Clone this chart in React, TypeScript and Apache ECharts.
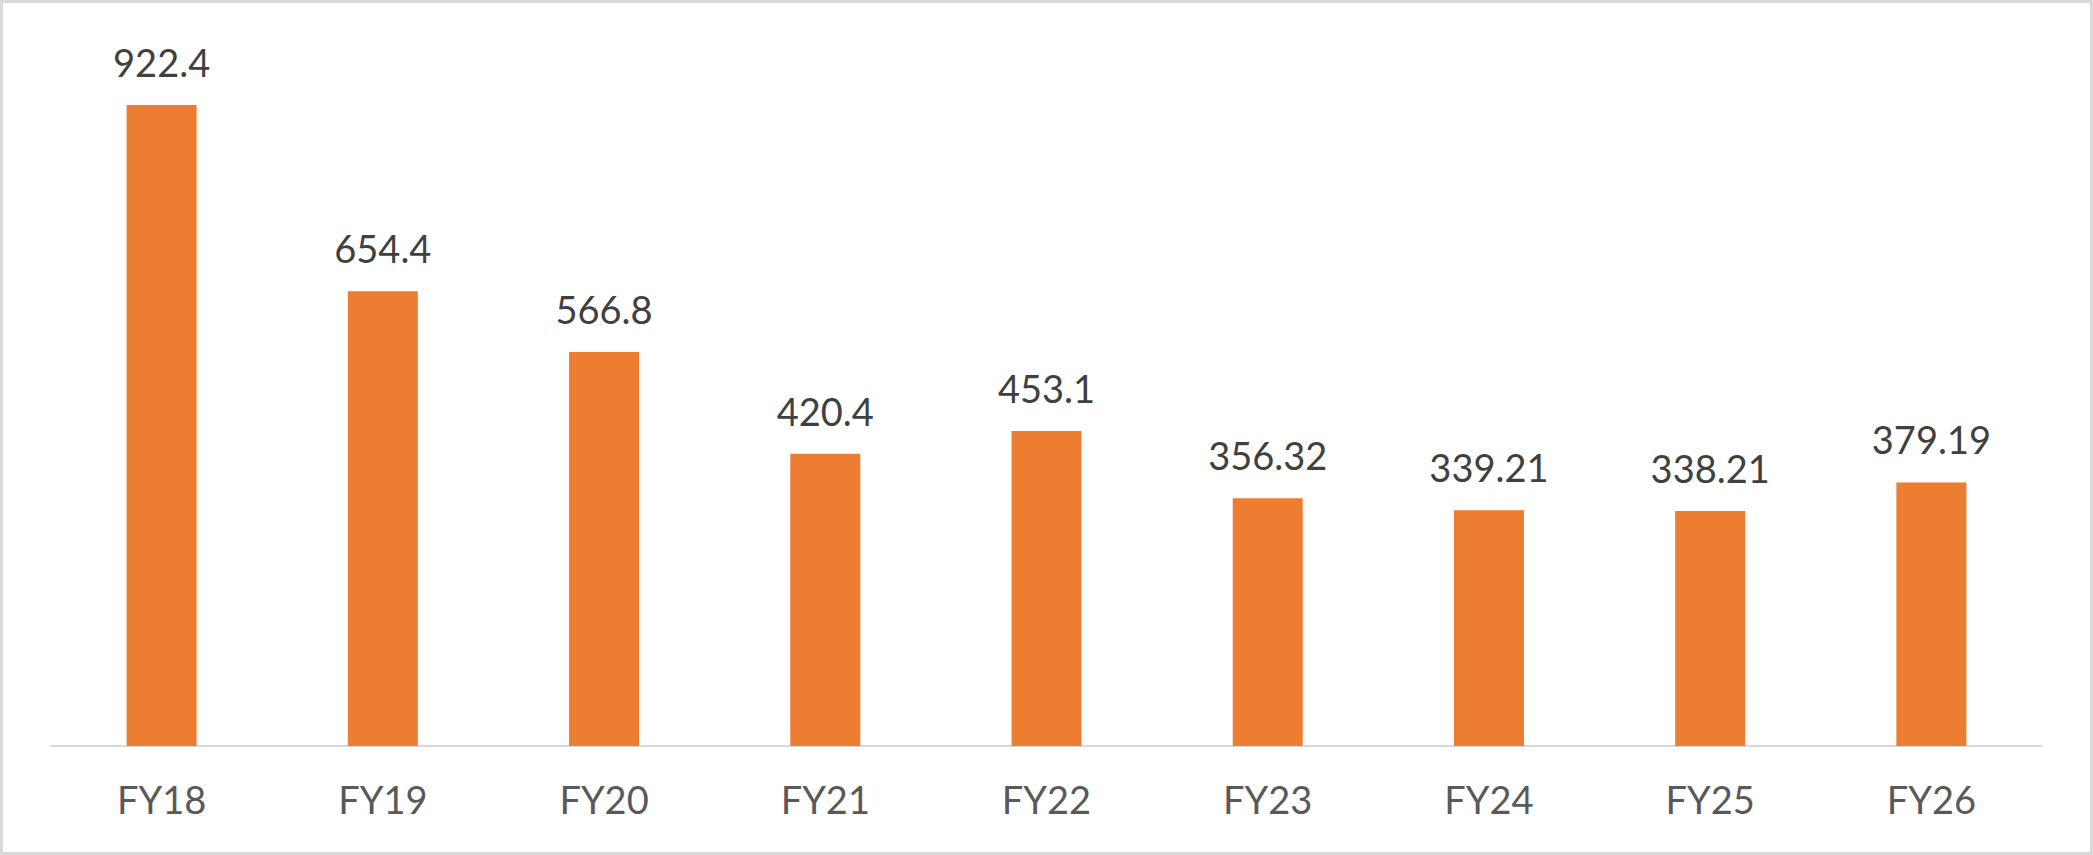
import React, { useEffect, useRef } from "react";
import * as echarts from "echarts";

// 연도별 값
const categories = ["FY18", "FY19", "FY20", "FY21", "FY22", "FY23", "FY24", "FY25", "FY26"];
const values = [922.4, 654.4, 566.8, 420.4, 453.1, 356.32, 339.21, 338.21, 379.19];

const App: React.FC = () => {
  const chartRef = useRef<HTMLDivElement | null>(null);

  useEffect(() => {
    document.body.style.margin = "0";
    if (chartRef.current) {
      const chart = echarts.init(chartRef.current, null, { renderer: "svg" });

      const option = {
        animation: false,
        grid: { left: 51, right: 51, top: 51, bottom: 109 },
        graphic: [
          {
            type: "rect",
            shape: { x: 1.5, y: 1.5, width: 2090, height: 852 },
            style: { fill: "none", stroke: "#d9d9d9", lineWidth: 3 },
            silent: true,
          },
        ],
        xAxis: {
          type: "category",
          data: categories,
          axisLine: { lineStyle: { color: "#d9d9d9", width: 2 } },
          axisTick: { show: false },
          axisLabel: {
            color: "#595959",
            fontFamily: "Lato",
            fontSize: 38,
            margin: 34,
          },
        },
        yAxis: {
          type: "value",
          min: 0,
          max: 1000,
          show: false,
          splitLine: { show: false },
        },
        series: [
          {
            type: "bar",
            data: values,
            barWidth: 70,
            itemStyle: { color: "#ED7D31" },
            label: {
              show: true,
              position: "top",
              distance: 24,
              color: "#404040",
              fontFamily: "Lato",
              fontSize: 38,
            },
          },
        ],
      };

      chart.setOption(option);

      return () => {
        chart.dispose();
      };
    }
  }, []);

  return <div ref={chartRef} style={{ width: "2093px", height: "855px" }} />;
};

export default App;
